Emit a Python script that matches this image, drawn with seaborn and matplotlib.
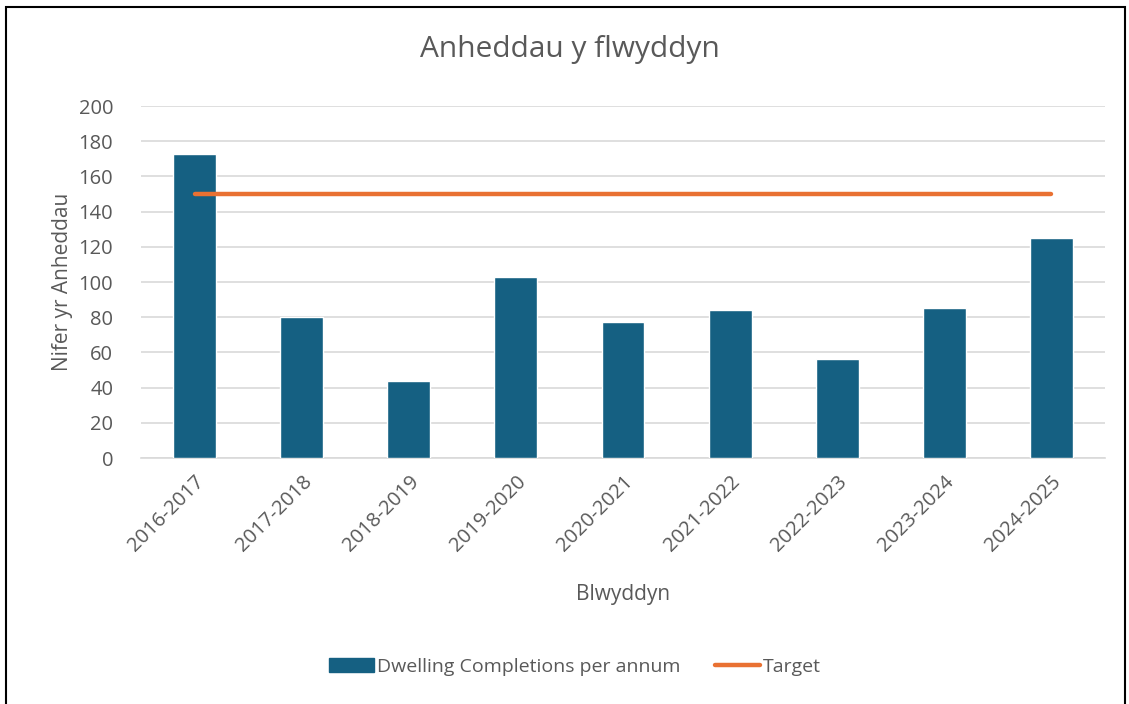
import matplotlib
matplotlib.use("Agg")
import matplotlib.pyplot as plt
import seaborn as sns
import pandas as pd
from matplotlib.patches import Rectangle, Patch
from matplotlib.lines import Line2D

years = ["2016-2017", "2017-2018", "2018-2019", "2019-2020", "2020-2021",
         "2021-2022", "2022-2023", "2023-2024", "2024-2025"]
completions = [173, 80, 44, 103, 77, 84, 56, 85, 125]
target = [150, 150, 150, 150, 150, 150, 150, 150, 150]

df = pd.DataFrame({"year": years, "completions": completions, "target": target})

sns.set_theme(style="white")
plt.rcParams['font.family'] = ['Open Sans', 'DejaVu Sans']

BLUE = "#156082"
ORANGE = "#E97132"
TXT = "#595959"
GRID = "#D9D9D9"

fig = plt.figure(figsize=(11.29, 7.04), dpi=100)
ax = fig.add_axes([141/1129, 1 - 458/704, (1105-141)/1129, (458-106)/704])

sns.barplot(data=df, x="year", y="completions", color=BLUE, width=0.4,
            saturation=1, ax=ax, zorder=3)
sns.lineplot(x=list(range(len(years))), y=df["target"], color=ORANGE,
             linewidth=3.2, ax=ax, zorder=4, solid_capstyle="round")

ax.set_ylim(0, 200)
ax.set_xlim(-0.5, len(years) - 0.5)
ax.set_yticks(range(0, 201, 20))
ax.yaxis.grid(True, color=GRID, linewidth=1.2, zorder=0)
ax.xaxis.grid(False)
for s in ["top", "right", "left"]:
    ax.spines[s].set_visible(False)
ax.spines["bottom"].set_color(GRID)
ax.spines["bottom"].set_linewidth(1.2)
ax.tick_params(axis="both", length=0, colors=TXT, labelsize=14.5)
ax.tick_params(axis="y", pad=20)
plt.setp(ax.get_xticklabels(), rotation=45, ha="right", rotation_mode="anchor")
ax.tick_params(axis="x", pad=10)

ax.set_xlabel("Blwyddyn", fontsize=15, color=TXT, labelpad=20)
ax.set_ylabel("Nifer yr Anheddau", fontsize=15, color=TXT, labelpad=4)
fig.text(570/1129, 1 - 50/704, "Anheddau y flwyddyn", ha="center", va="center",
         fontsize=21.5, color=TXT)

handles = [Patch(facecolor=BLUE, edgecolor=BLUE),
           Line2D([0], [0], color=ORANGE, linewidth=3.2, solid_capstyle="round")]
fig.legend(handles, ["Dwelling Completions per annum", "Target"],
           loc="center", bbox_to_anchor=(575/1129, 1 - 667/704), ncol=2,
           frameon=False, fontsize=14, labelcolor=TXT, handlelength=2.3,
           handletextpad=0.15, columnspacing=1.8)

fig.patches.append(Rectangle((6/1129, -0.05), (1125-6)/1129, 1.05 - 7/704,
                             transform=fig.transFigure, fill=False,
                             edgecolor="black", linewidth=1.5))

fig.savefig("out.png", dpi=100)
